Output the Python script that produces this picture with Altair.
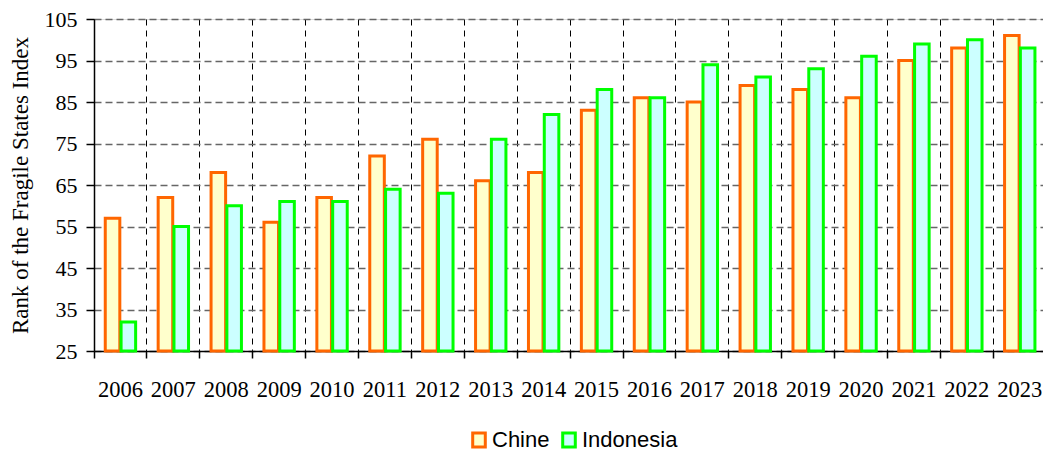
import altair as alt
import pandas as pd

years = ["2006", "2007", "2008", "2009", "2010", "2011", "2012", "2013", "2014",
         "2015", "2016", "2017", "2018", "2019", "2020", "2021", "2022", "2023"]
china = [57, 62, 68, 56, 62, 72, 76, 66, 68, 83, 86, 85, 89, 88, 86, 95, 98, 101]
indonesia = [32, 55, 60, 61, 61, 64, 63, 76, 82, 88, 86, 94, 91, 93, 96, 99, 100, 98]
series = ["Chine", "Indonesia"]
fills = ["#FFFFCC", "#CCFFFF"]
strokes = ["#FF6600", "#00FF00"]
y_ticks = [25, 35, 45, 55, 65, 75, 85, 95, 105]

rows = []
for i, yr in enumerate(years):
    rows.append({"year": yr, "country": series[0], "value": china[i]})
    rows.append({"year": yr, "country": series[1], "value": indonesia[i]})
df = pd.DataFrame(rows)

step = 52.9
x_range = step * len(years)
plot_w = 949
plot_h = 332

legend_cfg = dict(
    title=None, orient="none", direction="horizontal",
    legendX=374, legendY=410,
    labelFont="Liberation Sans", labelFontSize=22, labelColor="black",
    symbolType="M-0.9,-1H0.9V1H-0.9Z", symbolSize=196,
    symbolStrokeWidth=3, labelOffset=2, columnPadding=6,
)

chart = alt.Chart(df).mark_bar(strokeWidth=3, opacity=1).encode(
    x=alt.X("year:N", sort=years,
            scale=alt.Scale(paddingInner=0, paddingOuter=0, range=[0, x_range]),
            axis=alt.Axis(title=None, bandPosition=0,
                          labelAngle=0, labelFont="Liberation Serif", labelFontSize=22.5,
                          labelColor="black", labelPadding=20, labelOverlap=False,
                          tickSize=7, tickColor="black", tickWidth=1.5,
                          domainColor="black", domainWidth=1.5,
                          grid=True, gridColor="black", gridDash=[6, 5], gridWidth=1)),
    xOffset=alt.XOffset("country:N", sort=series,
                        scale=alt.Scale(paddingInner=0.08, paddingOuter=0.712)),
    y=alt.Y("value:Q",
            scale=alt.Scale(domain=[25, 105], nice=False, zero=False),
            axis=alt.Axis(values=y_ticks, title="Rank of the Fragile States Index",
                          titleFont="Liberation Serif", titleFontSize=23,
                          titleFontWeight="normal", titleColor="black",
                          titleAngle=-90, titleAlign="center", titleBaseline="alphabetic",
                          titleX=-67, titleY=plot_h / 2,
                          labelFont="Liberation Serif", labelFontSize=22,
                          labelColor="black", labelPadding=9,
                          tickSize=8, tickColor="black", tickWidth=1.5,
                          domainColor="black", domainWidth=1.5,
                          grid=True, gridColor="#666666", gridDash=[7, 4], gridWidth=1.5)),
    y2=alt.datum(25),
    fill=alt.Fill("country:N", sort=series,
                  scale=alt.Scale(domain=series, range=fills),
                  legend=alt.Legend(**legend_cfg)),
    stroke=alt.Stroke("country:N", sort=series,
                      scale=alt.Scale(domain=series, range=strokes),
                      legend=alt.Legend(**legend_cfg)),
).properties(
    width=plot_w, height=plot_h,
    autosize=alt.AutoSizeParams(type="none"),
    padding={"left": 86, "top": 11, "right": 0, "bottom": 101},
).configure_view(stroke=None).configure(background="white")

chart.save("out.html", embed_options={"renderer": "svg", "actions": False})
